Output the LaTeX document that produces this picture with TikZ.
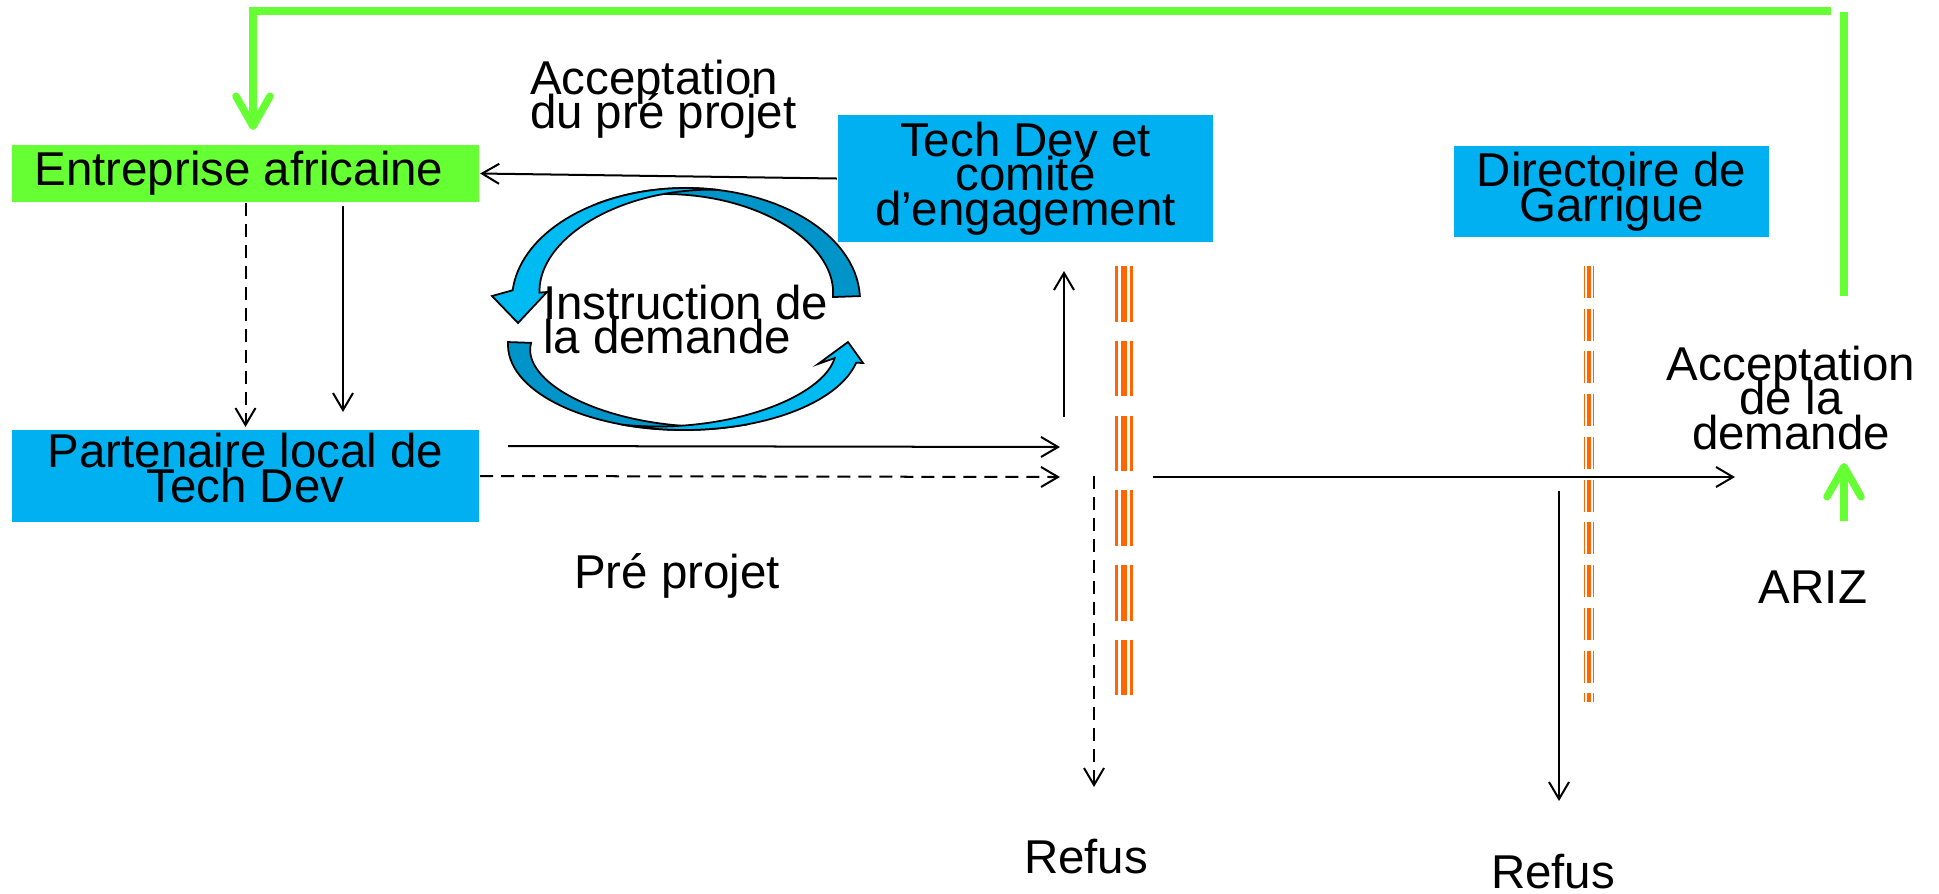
\documentclass[tikz,border=0pt]{standalone}
\usepackage{fontspec}
\setmainfont{Liberation Sans}
\usetikzlibrary{arrows.meta}
\definecolor{vertclair}{RGB}{102,255,51}
\definecolor{bleuboite}{RGB}{0,176,240}
\definecolor{bleuclair}{RGB}{0,186,242}
\definecolor{bleufonce}{RGB}{0,148,200}
\definecolor{orangebarre}{RGB}{255,102,0}
\newcommand\policediag{\fontsize{13.5}{9.8}\selectfont\lineskiplimit=-50pt\relax}

\begin{document}
\begin{tikzpicture}[x=0.01cm, y=-0.01cm, line width=0.57pt,
		>={Straight Barb[length=0.17cm, width=0.2cm]}]
				\tikzstyle{every node}=[inner sep=0pt, align=center, font=\policediag]
				\tikzstyle{boite}=[fill=bleuboite]
				\tikzstyle{pointille}=[dash pattern=on 0.13cm off 0.08cm]
				\tikzstyle{retour}=[draw=vertclair, line width=0.075cm, -{Straight Barb[length=0.3cm, width=0.34cm, round]}]
				\tikzstyle{ruban}=[draw=black, line width=0.5pt]
				\useasboundingbox (0,0) rectangle (1939,893);
				% cycle d'instruction
				\filldraw[ruban, fill=bleufonce] plot[domain=2:120, samples=40] ({686+174*cos(\x)}, {300-112*sin(\x)})
					-- plot[domain=120:2, samples=40] ({686+(174-27*(120-\x)/118)*cos(\x)}, {300-(112-27*(120-\x)/118)*sin(\x)}) -- cycle;
				\filldraw[ruban, fill=bleuclair] plot[domain=80:175, samples=40] ({686+174*cos(\x)}, {300-112*sin(\x)})
					-- (492,296) -- (518,323) -- (547,292)
					-- plot[domain=175:80, samples=40] ({686+(174-27*(\x-80)/95)*cos(\x)}, {300-(112-27*(\x-80)/95)*sin(\x)}) -- cycle;
				\filldraw[ruban, fill=bleufonce] plot[domain=178:290, samples=40] ({684+176*cos(\x)}, {345-85*sin(\x)})
					-- plot[domain=290:178, samples=40] ({684+(176-23*(290-\x)/112)*cos(\x)}, {345-(85-23*(290-\x)/112)*sin(\x)}) -- cycle;
				\filldraw[ruban, fill=bleuclair] plot[domain=250:348, samples=40] ({684+176*cos(\x)}, {345-85*sin(\x)})
					-- (863,363) -- (848,342) -- (818,364)
					-- plot[domain=348:250, samples=40] ({684+(176-22*(\x-250)/98)*cos(\x)}, {345-(85-22*(\x-250)/98)*sin(\x)}) -- cycle;
				% boites
				\node[boite, fill=vertclair, minimum width=4.67cm, minimum height=0.57cm] (entreprise) at (245.5, 173.5) {Entreprise africaine\hspace*{0.13cm}};
				\node[boite, minimum width=4.67cm, minimum height=0.92cm] (partenaire) at (245.5, 476) {Partenaire local de\\Tech Dev\rule[-0.16cm]{0pt}{0pt}};
				\node[boite, minimum width=3.75cm, minimum height=1.27cm] (techdev) at (1025.5, 178.5) {Tech Dev et\\comité\\d’engagement};
				\node[boite, minimum width=3.15cm, minimum height=0.91cm] (directoire) at (1611.5, 191.5) {Directoire de\\Garrigue};
				% textes
				\node[anchor=north west, align=left] (accpre) at (529, 59) {Acceptation\\du pré projet};
				\node[anchor=north west, align=left] (instruction) at (542, 284) {Instruction de\\la demande};
				\node[anchor=base] (preprojet) at (677, 588) {Pré projet};
				\node[anchor=north] (accdemande) at (1791, 345) {Acceptation\\de la\\demande};
				\node[anchor=base] (ariz) at (1813, 603) {ARIZ};
				\node[anchor=base] (refus1) at (1086, 873) {Refus};
				\node[anchor=base] (refus2) at (1553, 888) {Refus};
				% barrieres
				\foreach \dx/\w in {-7.5/0.027cm, 0/0.063cm, 7.5/0.027cm}
					\draw[orangebarre, line width=\w, dash pattern=on 0.557cm off 0.19cm] ({1123.8+\dx}, 266) -- ({1123.8+\dx}, 696);
				\foreach \dx/\w in {-4.6/0.017cm, 0/0.039cm, 4.6/0.017cm}
					\draw[orangebarre, line width=\w, dash pattern=on 0.32cm off 0.107cm] ({1589+\dx}, 266) -- ({1589+\dx}, 702);
				% fleches
				\coordinate (p1) at (245.5, 427);
				\coordinate (e2) at (343, 206);
				\coordinate (p2) at (343, 412);
				\coordinate (p3) at (508, 446);
				\coordinate (c1) at (1060, 447);
				\coordinate (c2) at (1060, 477);
				\coordinate (c3) at (1064, 417);
				\coordinate (c4) at (1064, 271);
				\coordinate (c5) at (1094, 476);
				\coordinate (c6) at (1094, 787);
				\coordinate (c7) at (1153, 477);
				\coordinate (c8) at (1735, 477);
				\coordinate (d1) at (1559, 491);
				\coordinate (d2) at (1559, 801);
				\draw [->] (techdev.west) -- (entreprise.east);
				\draw [->, pointille] (entreprise.south) -- (p1);
				\draw [->] (e2) -- (p2);
				\draw [->] (p3) -- (c1);
				\draw [->, pointille] (partenaire.east) -- (c2);
				\draw [->] (c3) -- (c4);
				\draw [->, pointille] (c5) -- (c6);
				\draw [->] (c7) -- (c8);
				\draw [->] (d1) -- (d2);
				% retour vers l'entreprise
				\coordinate (g1) at (1831, 11);
				\coordinate (g2) at (253, 11);
				\coordinate (g3) at (253, 130);
				\coordinate (g4) at (1844, 12);
				\coordinate (g5) at (1844, 296);
				\coordinate (g6) at (1844, 521);
				\coordinate (g7) at (1844, 463);
				\draw [retour] (g1) -- (g2) -- (g3);
				\draw [draw=vertclair, line width=0.075cm] (g4) -- (g5);
				\draw [retour] (g6) -- (g7);
		\end{tikzpicture}
\end{document}
